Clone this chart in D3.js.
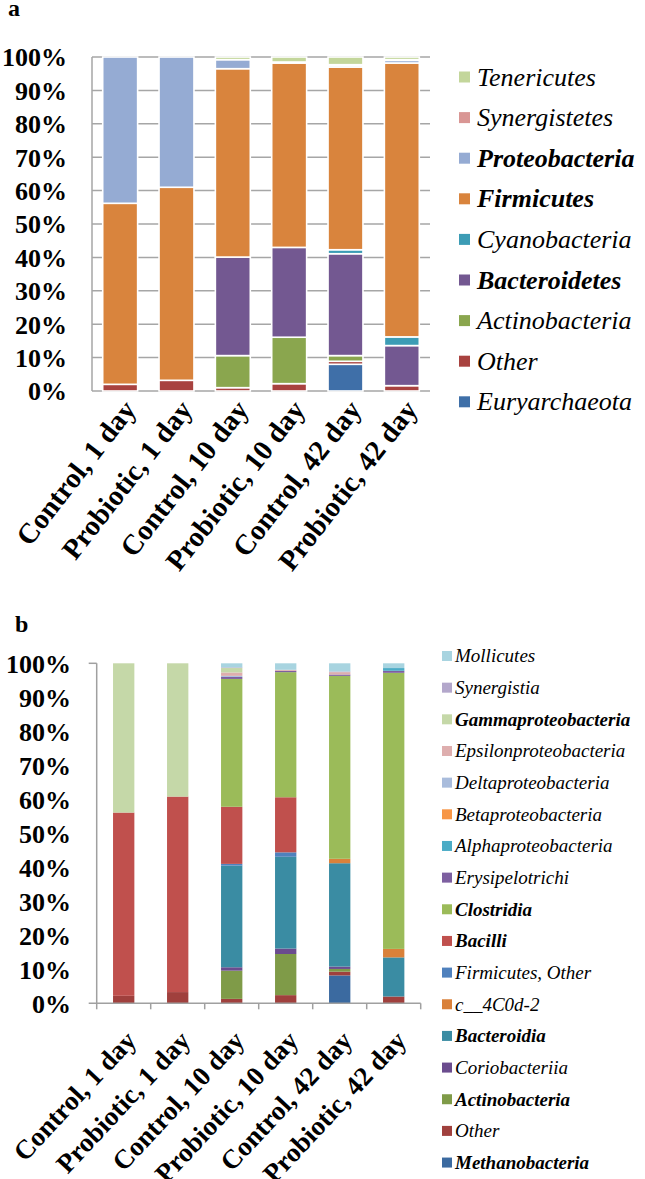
<!DOCTYPE html>
<html><head><meta charset="utf-8">
<script src="https://cdn.jsdelivr.net/npm/d3@7"></script>
<style>
html,body{margin:0;padding:0;background:#fff;}
svg{display:block;}
</style></head>
<body>
<svg id="c" width="645" height="1179"></svg>
<script>
// ---------- DATA ----------
const categories = ["Control, 1 day","Probiotic, 1 day","Control, 10 day","Probiotic, 10 day","Control, 42 day","Probiotic, 42 day"];
const yTicks = [0,10,20,30,40,50,60,70,80,90,100];

// Panel a: phyla (stack order bottom -> top)
const phylaNames = ["Euryarchaeota","Other","Actinobacteria","Bacteroidetes","Cyanobacteria","Firmicutes","Proteobacteria","Synergistetes","Tenericutes"];
const phylaBold = ["Proteobacteria","Firmicutes","Bacteroidetes"];
const phylaColors = ["#3f6fa8","#a8423f","#8aa64e","#735891","#3c9cb5","#d9843d","#95abd3","#d99694","#c3d69b"];
const euryarchaeota  = [0,0,0,0,8.0,0];
const otherA         = [2.0,3.2,1.0,2.2,0.9,1.6];
const actinobacteria = [0,0,9.6,13.9,1.7,0];
const bacteroidetes  = [0,0,29.5,26.9,30.5,12.0];
const cyanobacteria  = [0,0,0,0,1.2,2.6];
const firmicutes     = [54.2,57.8,56.4,55.2,54.7,82.0];
const proteobacteria = [43.8,39.0,2.7,0.3,0.5,0.8];
const synergistetes  = [0,0,0,0,0.2,0.2];
const tenericutes    = [0,0,0.8,1.5,2.3,0.8];
const phylaValues = [euryarchaeota,otherA,actinobacteria,bacteroidetes,cyanobacteria,firmicutes,proteobacteria,synergistetes,tenericutes];

// Panel b: classes (stack order bottom -> top)
const classNames = ["Methanobacteria","Other","Actinobacteria","Coriobacteriia","Bacteroidia","c__4C0d-2","Firmicutes, Other","Bacilli","Clostridia","Erysipelotrichi","Alphaproteobacteria","Betaproteobacteria","Deltaproteobacteria","Epsilonproteobacteria","Gammaproteobacteria","Synergistia","Mollicutes"];
const classBold = ["Methanobacteria","Actinobacteria","Bacteroidia","Bacilli","Clostridia","Gammaproteobacteria"];
const classColors = ["#3b6aa0","#a0403d","#7f9b48","#6b4c8e","#3a8ca3","#d9813a","#4f81bd","#c0504d","#9bbb59","#7d5fa0","#4bacc6","#f79646","#a9bcdc","#deaeae","#c5d8a8","#b3a7cb","#a8d4e0"];
const methanobacteria = [0,0,0,0,8.2,0];
const otherB          = [2.2,3.3,1.3,2.4,1.1,2.0];
const actinobacteriaB = [0,0,8.3,12.1,0.8,0];
const coriobacteriia  = [0,0,1.0,1.6,0.7,0];
const bacteroidia     = [0,0,29.9,27.0,30.4,11.5];
const c4C0d2          = [0,0,0,0,1.3,2.5];
const firmicutesOther = [0,0,0.5,1.3,0,0];
const bacilli         = [53.9,57.5,16.8,16.2,0,0];
const clostridia      = [0,0,37.6,36.8,53.8,81.2];
const erysipelotrichi = [0,0,0.6,0.4,0.4,0.6];
const alphaproteo     = [0,0,0,0,0,0.8];
const betaproteo      = [0,0,0,0,0,0];
const deltaproteo     = [0,0,0.3,0,0,0];
const epsilonproteo   = [0,0,1.0,0.3,0.7,0];
const gammaproteo     = [43.9,39.2,1.3,0,0,0];
const synergistia     = [0,0,0.2,0,0.2,0];
const mollicutes      = [0,0,1.2,1.9,2.4,1.4];
const classValues = [methanobacteria,otherB,actinobacteriaB,coriobacteriia,bacteroidia,c4C0d2,firmicutesOther,bacilli,clostridia,erysipelotrichi,alphaproteo,betaproteo,deltaproteo,epsilonproteo,gammaproteo,synergistia,mollicutes];

// ---------- FONT PICK (first installed serif) ----------
function pickFont(list){
  const cv = document.createElement("canvas").getContext("2d");
  const s = "Probiotic, 42 day Mmwi%";
  for(const f of list){
    for(const fb of ["monospace","sans-serif"]){
      cv.font = `40px ${fb}`; const w0 = cv.measureText(s).width;
      cv.font = `40px "${f}", ${fb}`; const w1 = cv.measureText(s).width;
      if(Math.abs(w1-w0)>0.5) return `"${f}", serif`;
    }
  }
  return "serif";
}
const F = pickFont(["Liberation Serif","Times New Roman","Tinos","Nimbus Roman","FreeSerif","DejaVu Serif","Noto Serif"]);

// ---------- DRAW ----------
const svg = d3.select("#c").style("font-family",F);

function buildRows(names, values){
  return categories.map((c,i)=>{ const r={cat:c}; names.forEach((n,k)=>r[n]=values[k][i]); return r; });
}

function panel(opt){
  const g = svg.append("g");
  const x = d3.scaleBand().domain(categories).range([opt.x0,opt.x1]).paddingInner(opt.pad).paddingOuter(opt.pad/2);
  const y = d3.scaleLinear().domain([0,100]).range([opt.yb,opt.yt]);
  const rows = buildRows(opt.names, opt.values);
  const stack = d3.stack().keys(opt.names)(rows);

  if(opt.grid){
    g.append("g").selectAll("line").data(yTicks).join("line")
      .attr("x1",opt.x0).attr("x2",opt.x1).attr("y1",d=>y(d)).attr("y2",d=>y(d))
      .attr("stroke","#a6a6a6").attr("stroke-width",1.5);
    g.append("line").attr("x1",opt.x0).attr("x2",opt.x0).attr("y1",y(0)).attr("y2",y(100))
      .attr("stroke","#a6a6a6").attr("stroke-width",1.5);
  }

  g.append("g").selectAll("g").data(stack).join("g")
    .attr("fill",(d,i)=>opt.colors[i])
    .selectAll("rect").data(d=>d.filter(s=>s[1]-s[0]>0)).join("rect")
    .attr("x",d=>x(d.data.cat)).attr("width",x.bandwidth())
    .attr("y",d=>y(d[1])).attr("height",d=>y(d[0])-y(d[1]))
    .attr("stroke",opt.grid?"#fff":"none").attr("stroke-width",opt.grid?1.6:0);

  if(!opt.grid){
    const ax = g.append("g").attr("stroke","#a0a0a0").attr("stroke-width",1.5);
    ax.append("line").attr("x1",opt.x0).attr("x2",opt.x0).attr("y1",y(0)).attr("y2",y(100));
    ax.append("line").attr("x1",opt.x0-8).attr("x2",opt.x1).attr("y1",y(0)).attr("y2",y(0));
    ax.append("line").attr("x1",opt.x0-8).attr("x2",opt.x0).attr("y1",y(100)).attr("y2",y(100));
    const bounds = d3.range(categories.length+1).map(i=>opt.x0 + i*x.step());
    ax.selectAll("line.t").data(bounds).join("line").attr("class","t")
      .attr("x1",d=>d).attr("x2",d=>d).attr("y1",y(0)).attr("y2",y(0)+6);
  }

  g.append("g").selectAll("text").data(yTicks).join("text")
    .attr("x",opt.ylabX).attr("y",d=>y(d)).attr("dy","0.36em")
    .attr("text-anchor","end").attr("font-weight","bold")
    .attr("font-size",26).text(d=>d+"%");

  g.append("g").selectAll("text").data(categories).join("text")
    .attr("transform",d=>`translate(${x(d)+x.bandwidth()/2+opt.xlabDx},${y(0)+opt.xlabDy}) rotate(${-opt.rot})`)
    .attr("text-anchor","end").attr("font-weight","bold")
    .attr("font-size",opt.xfs).text(d=>d);

  const leg = g.append("g");
  const items = opt.names.map((n,i)=>({n,c:opt.colors[i]})).reverse();
  items.forEach((it,i)=>{
    const cy = opt.legY0 + i*opt.legStep;
    leg.append("rect").attr("x",opt.legX).attr("y",cy-opt.sq/2).attr("width",opt.sq).attr("height",opt.sq).attr("fill",it.c);
    leg.append("text").attr("x",opt.legTX).attr("y",cy).attr("dy","0.33em")
      .attr("font-style","italic")
      .attr("font-weight",opt.bold.includes(it.n)?"bold":"normal")
      .attr("font-size",opt.legFs).text(it.n);
  });

  svg.append("text").attr("x",opt.letX).attr("y",opt.letY)
    .attr("font-weight","bold").attr("font-size",24).text(opt.letter);
}

panel({letter:"a",letX:8,letY:16,names:phylaNames,values:phylaValues,colors:phylaColors,bold:phylaBold,
  x0:92,x1:430,pad:0.38,yb:391,yt:57,grid:true,ylabX:67,xlabDx:17,xlabDy:19,xfs:28.5,rot:52,
  legX:459,legTX:477,legY0:77,legStep:40.6,sq:11,legFs:26});

panel({letter:"b",letX:15,letY:632,names:classNames,values:classValues,colors:classColors,bold:classBold,
  x0:96.7,x1:420.7,pad:0.605,yb:1003.3,yt:663.3,grid:false,ylabX:71,xlabDx:14,xlabDy:38.5,xfs:27,rot:47,
  legX:442,legTX:455,legY0:656,legStep:31.66,sq:10,legFs:19});
</script>
</body></html>
